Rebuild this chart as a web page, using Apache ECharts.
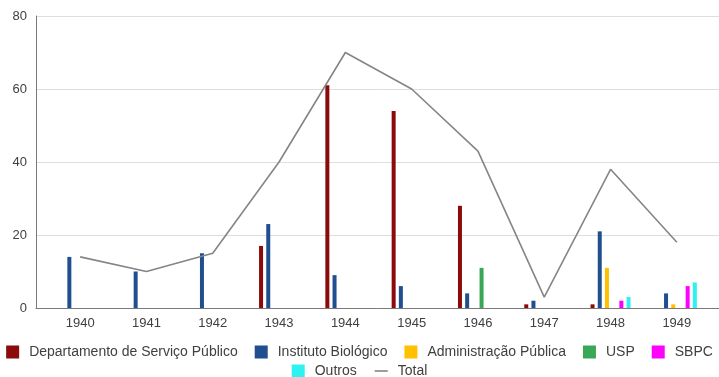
<!DOCTYPE html>
<html>
<head>
<meta charset="utf-8">
<script src="https://cdn.jsdelivr.net/npm/echarts@6/dist/echarts.min.js"></script>
<style>
html,body{margin:0;padding:0;background:#fff;}
#chart{width:719px;height:377px;}
</style>
</head>
<body>
<div id="chart"></div>
<script>
var years = ['1940','1941','1942','1943','1944','1945','1946','1947','1948','1949'];
var seriesNames = ['Departamento de Serviço Público','Instituto Biológico','Administração Pública','USP','SBPC','Outros'];
var dsp      = [0, 0, 0, 17, 61, 54, 28, 1, 1, 0];
var instBio  = [14, 10, 15, 23, 9, 6, 4, 2, 21, 4];
var admPub   = [0, 0, 0, 0, 0, 0, 0, 0, 11, 1];
var usp      = [0, 0, 0, 0, 0, 0, 11, 0, 0, 0];
var sbpc     = [0, 0, 0, 0, 0, 0, 0, 0, 2, 6];
var outros   = [0, 0, 0, 0, 0, 0, 0, 0, 3, 7];
var total    = [14, 10, 15, 40, 70, 60, 43, 3, 38, 18];
var yTicks   = [0, 20, 40, 60, 80];

var barData = [dsp, instBio, admPub, usp, sbpc, outros];
var colors = ['#8b0a0a', '#1f4f8f', '#ffc000', '#3aa757', '#ff00ff', '#2ef2f2'];
var font = 'Liberation Sans, Arial, sans-serif';

var chart = echarts.init(document.getElementById('chart'));
var series = barData.map(function (d, i) {
  return {
    name: seriesNames[i], type: 'bar', xAxisIndex: 0, yAxisIndex: 0,
    data: d, barWidth: 4, barGap: '80%',
    itemStyle: {color: colors[i]}, animation: false
  };
});
series.push({
  name: 'Total', type: 'line', xAxisIndex: 0, yAxisIndex: 0,
  data: total, symbol: 'none', showSymbol: false,
  lineStyle: {color: '#858585', width: 1.6}, itemStyle: {color: '#858585'},
  animation: false
});

chart.setOption({
  animation: false,
  color: colors,
  grid: [
    {left: 47, right: 9, top: 16, bottom: 69},
    {left: 36, right: 0, top: 16, bottom: 69}
  ],
  xAxis: [
    {type: 'category', gridIndex: 0, data: years,
     axisLine: {show: false}, axisTick: {show: false},
     axisLabel: {color: '#404040', fontSize: 13, fontFamily: font, margin: 9}},
    {type: 'value', gridIndex: 1, min: 0, max: 1, show: true,
     axisLine: {show: true, lineStyle: {color: '#7a7a7a', width: 1}},
     axisTick: {show: false}, axisLabel: {show: false}, splitLine: {show: false}}
  ],
  yAxis: [
    {type: 'value', gridIndex: 0, min: yTicks[0], max: yTicks[yTicks.length - 1], interval: 20, show: false},
    {type: 'value', gridIndex: 1, min: yTicks[0], max: yTicks[yTicks.length - 1], interval: 20,
     axisLine: {show: true, lineStyle: {color: '#7a7a7a', width: 1}},
     axisTick: {show: false},
     axisLabel: {color: '#404040', fontSize: 13, fontFamily: font, margin: 9},
     splitLine: {show: true, lineStyle: {color: '#dedede', width: 1}}}
  ],
  legend: [
    {data: seriesNames.slice(0, 5), top: 340, left: 'center', itemWidth: 13, itemHeight: 13,
     itemGap: 17, icon: 'rect',
     textStyle: {color: '#404040', fontSize: 14, fontFamily: font, padding: [0, 0, 0, 5]}},
    {data: [{name: 'Outros', icon: 'rect'}, {name: 'Total', icon: 'path://M0,0h13v1.6h-13z'}],
     top: 359, left: 'center',
     itemWidth: 13, itemHeight: 13, itemGap: 18,
     textStyle: {color: '#404040', fontSize: 14, fontFamily: font, padding: [0, 0, 0, 5]}}
  ],
  series: series
});
</script>
</body>
</html>
